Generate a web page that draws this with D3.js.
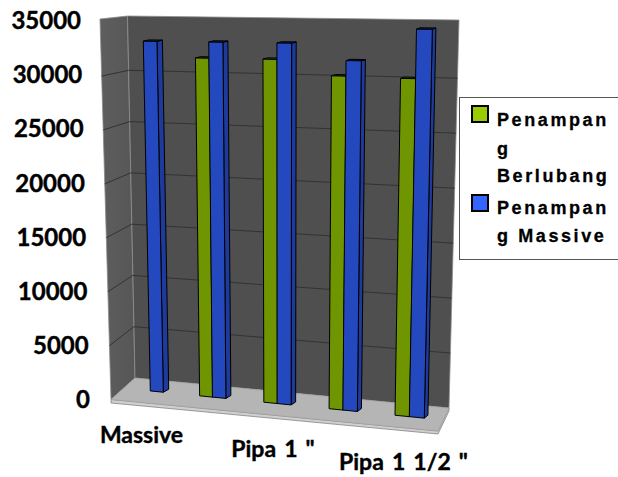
<!DOCTYPE html>
<html><head><meta charset="utf-8">
<script src="https://cdn.jsdelivr.net/npm/d3@7"></script>
<style>html,body{margin:0;background:#fff}svg{display:block}</style></head>
<body><script>
const categories = ["Massive", "", "Pipa 1 \"", "", "Pipa 1 1/2 \""];
const berlubang = [null, 31500, 31500, 30100, 30000];
const massive = [33000, 33000, 33000, 31500, 34400];
const yTicks = [0, 5000, 10000, 15000, 20000, 25000, 30000, 35000];
const legendLines = [["Penampan", "g", "Berlubang"], ["Penampan", "g Massive"]];
const seriesColors = ["#6f9600", "#2448bd"];
const legendColors = ["#99cc00", "#3366ff"];

const W = 618, H = 477;
const svg = d3.select("body").append("svg").attr("width", W).attr("height", H);

// perspective helpers
const wallFrac = d3.scaleLinear().domain([0, 30000, 35000]).range([0, 0.85, 1]);
const lerp = (a, b, t) => [a[0] + (b[0] - a[0]) * t, a[1] + (b[1] - a[1]) * t];
const backL = v => lerp([135, 378], [127.5, 16], wallFrac(v));
const backR = v => lerp([449, 408], [459, 20], wallFrac(v));
const sideL = v => lerp([111, 399.5], [100, 19], wallFrac(v));
const pts = a => a.map(p => p.join(",")).join(" ");

const xIdx = d3.scalePow().exponent(1.03).domain([0, 4]).range([138, 395]);
const barW = d3.scaleLinear().domain([138, 395]).range([12.5, 14.5]);
const baseY = d3.scaleLinear().domain([151, 423]).range([391, 418]);
const pxPer = d3.scaleLinear().domain([151, 423]).range([53, 56.5]);
const CX = 281, K = 0.057, VMAX = 35000;
const proj = (x, v) => [CX + (x - CX) * (1 + K * v / VMAX), baseY(x) - pxPer(x) * v / 5000];

const yLabel = d3.scaleLinear().domain([0, 35000]).range([400, 21]);
const yLabelRight = d3.scaleLinear().domain([0, 35000]).range([90, 81]);

// side wall, back wall
const defs = svg.append("defs");
const g1 = defs.append("linearGradient").attr("id", "sw").attr("x1", 0).attr("x2", 1).attr("y1", 0).attr("y2", 0);
g1.append("stop").attr("offset", 0).attr("stop-color", "#5e5e5e");
g1.append("stop").attr("offset", 1).attr("stop-color", "#565656");
svg.append("polygon").attr("points", pts([sideL(0), backL(0), backL(VMAX), sideL(VMAX)])).attr("fill", "url(#sw)").attr("stroke", "#8a8a8a").attr("stroke-width", 0.8);
svg.append("polygon").attr("points", pts([backL(0), backR(0), backR(VMAX), backL(VMAX)])).attr("fill", "#4f4f4f").attr("stroke", "#8f8f8f").attr("stroke-width", 0.8);

// gridlines
yTicks.filter(v => v > 0 && v < VMAX).forEach(v => {
  svg.append("polyline").attr("points", pts([sideL(v), backL(v), backR(v)]))
    .attr("fill", "none").attr("stroke", "#333").attr("stroke-width", 1);
});

// floor
const fl0 = [111, 399.5], fl1 = [438, 431];
svg.append("polygon").attr("points", pts([fl0, fl1, [449, 408], [449, 411], [438, 434], [111, 403]])).attr("fill", "#cfcfcf").attr("stroke", "#777").attr("stroke-width", 0.7);
svg.append("polygon").attr("points", pts([fl0, backL(0), backR(0), fl1])).attr("fill", "#b5b5b5").attr("stroke", "#999").attr("stroke-width", 0.5);

// bars
function drawBar(x, w, v, color) {
  if (v == null) return;
  const d0 = d3.scaleLinear().domain([138, 423]).range([5.5, 3.5])(x);
  const a = proj(x, 0), b = proj(x + w, 0), c = proj(x + w, v), e = proj(x, v);
  const sb = [b[0] + d0, b[1] - 3], st = [c[0] + d0, c[1] - 1.3], et = [e[0] + d0, e[1] - 1.3];
  const g = svg.append("g").attr("stroke", "#000").attr("stroke-width", 1).attr("stroke-linejoin", "round");
  g.append("polygon").attr("points", pts([b, sb, st, c])).attr("fill", d3.color(color).darker(0.55));
  g.append("polygon").attr("points", pts([e, c, st, et])).attr("fill", d3.color(color).darker(1.5));
  g.append("polygon").attr("points", pts([a, b, c, e])).attr("fill", color);
}
categories.forEach((cat, i) => {
  const x = xIdx(i), w = barW(x);
  drawBar(x, w, berlubang[i], seriesColors[0]);
  drawBar(x + w - 0.2, w + 0.5, massive[i], seriesColors[1]);
});

// y axis
const axisG = svg.append("g")
  .call(d3.axisLeft(yLabel).tickValues(yTicks).tickSize(0).tickPadding(0).tickFormat(d3.format("d")));
axisG.select(".domain").remove();
axisG.selectAll(".tick text").attr("x", d => yLabelRight(d))
  .attr("font-family", "Lato").attr("font-weight", "bold").attr("font-size", 24).attr("fill", "#000")
  .attr("stroke", "#000").attr("stroke-width", 0.4);

// category labels
const catX = d3.scaleLinear().domain([0, 2, 4]).range([141.5, 273, 403.5]);
const catY = d3.scaleLinear().domain([0, 4]).range([443, 470]);
svg.append("g").selectAll("text").data(categories.map((c, i) => ({c, i})).filter(d => d.c))
  .join("text").attr("x", d => catX(d.i)).attr("y", d => catY(d.i)).attr("text-anchor", "middle")
  .attr("font-family", "Lato").attr("font-weight", "bold").attr("font-size", 23).attr("word-spacing", 2.5).attr("fill", "#000")
  .attr("stroke", "#000").attr("stroke-width", 0.4).text(d => d.c);

// legend
svg.append("rect").attr("x", 459.5).attr("y", 97.5).attr("width", 170).attr("height", 162).attr("fill", "#fff").attr("stroke", "#555");
const legendRows = [126, 155, 182, 214, 242];
let row = 0;
legendLines.forEach((lines, s) => {
  svg.append("rect").attr("x", 472).attr("y", s ? 195 : 106).attr("width", 16).attr("height", 16)
    .attr("fill", legendColors[s]).attr("stroke", "#000").attr("stroke-width", 2);
  lines.forEach(t => {
    svg.append("text").attr("x", 497).attr("y", legendRows[row++]).text(t)
      .attr("font-family", "Liberation Sans").attr("font-weight", "bold").attr("font-size", 18)
      .attr("letter-spacing", 2.6).attr("fill", "#000").attr("stroke", "#000").attr("stroke-width", 0.3);
  });
});
</script></body></html>
